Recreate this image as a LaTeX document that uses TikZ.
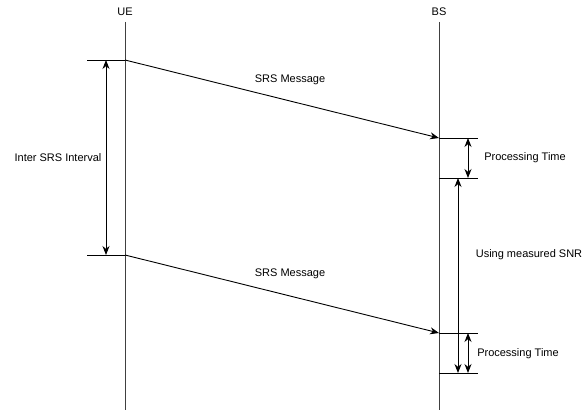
\documentclass[tikz,border=0pt]{standalone}
\usepackage{fontspec}
\setmainfont{Liberation Sans}
\usetikzlibrary{arrows.meta}
\begin{document}
\begin{tikzpicture}[x=1pt,y=-1pt,
  life/.style={draw=black!75, line width=0.9pt},
  tick/.style={draw=black, line width=0.9pt},
  msg/.style={draw=black, line width=0.9pt, -{Stealth[length=9pt,width=7pt]}},
  dbl/.style={draw=black, line width=0.9pt, {Stealth[length=9pt,width=7pt]}-{Stealth[length=9pt,width=7pt]}},
  lbl/.style={font=\fontsize{11}{13}\selectfont, inner sep=0pt}]
\useasboundingbox (0,0) rectangle (586,412);
% lifelines
\node[lbl] (ue) at (125,12) {UE};
\node[lbl] (bs) at (439,12) {BS};
\coordinate (uetop) at (125,22);
\coordinate (uebot) at (125,410);
\coordinate (bstop) at (439,22);
\coordinate (bsbot) at (439,410);
\draw[life] (uetop) -- (uebot);
\draw[life] (bstop) -- (bsbot);
% UE ticks
\coordinate (u1a) at (87,60); \coordinate (u1b) at (125,60);
\coordinate (u2a) at (87,255); \coordinate (u2b) at (125,255);
\draw[tick] (u1a) -- (u1b);
\draw[tick] (u2a) -- (u2b);
\coordinate (i1) at (106,60); \coordinate (i2) at (106,255);
\draw[dbl] (i1) -- (i2);
\node[lbl] (inter) at (58,158) {Inter SRS Interval};
% BS ticks
\coordinate (b1a) at (439,138); \coordinate (b1b) at (478,138);
\coordinate (b2a) at (439,178); \coordinate (b2b) at (478,178);
\coordinate (b3a) at (439,333); \coordinate (b3b) at (478,333);
\coordinate (b4a) at (439,373); \coordinate (b4b) at (478,373);
\draw[tick] (b1a) -- (b1b);
\draw[tick] (b2a) -- (b2b);
\draw[tick] (b3a) -- (b3b);
\draw[tick] (b4a) -- (b4b);
% messages
\draw[msg] (u1b) -- (b1a);
\draw[msg] (u2b) -- (b3a);
\node[lbl] (m1) at (290,80) {SRS Message};
\node[lbl] (m2) at (290,274) {SRS Message};
% processing arrows
\coordinate (p1a) at (468,138); \coordinate (p1b) at (468,178);
\coordinate (p2a) at (468,333); \coordinate (p2b) at (468,373);
\draw[dbl] (p1a) -- (p1b);
\draw[dbl] (p2a) -- (p2b);
\node[lbl] (pt1) at (525,158) {Processing Time};
\node[lbl] (pt2) at (518,354) {Processing Time};
% long arrow
\coordinate (s1) at (458,178); \coordinate (s2) at (458,373);
\draw[dbl] (s1) -- (s2);
\node[lbl] (snr) at (529,255) {Using measured SNR};
\end{tikzpicture}
\end{document}
